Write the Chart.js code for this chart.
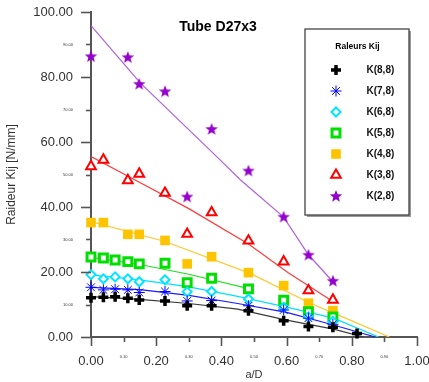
<!DOCTYPE html>
<html>
<head>
<meta charset="utf-8">
<style>
  html, body { margin: 0; padding: 0; background: #fff; }
</style>
</head>
<body>
<canvas id="myChart" width="429" height="382"></canvas>
<script src="https://cdn.jsdelivr.net/npm/chart.js@4.4.1/dist/chart.umd.min.js"></script>
<script>
  const FONT = 'Arial, "Liberation Sans", sans-serif';

  // a/D positions of the measured points
  const aD = [0, 0.038, 0.074, 0.113, 0.148, 0.227, 0.295, 0.37, 0.483, 0.591, 0.667, 0.742, 0.816];

  // measured stiffness [N/mm], null where there is no point
  const k88 = [12.1, 12.2, 12.4, 11.9, 11.4, 11.1, 9.6, 9.6, 8.1, 5.0, 3.2, 3.0, 1.1];
  const k78 = [15.3, 14.5, 14.7, 14.5, 13.7, 14.0, 11.1, 11.2, 9.6, 8.3, 5.8, 3.9, null];
  const k68 = [19.2, 17.9, 18.5, 17.9, 17.0, 17.6, 13.9, 14.0, 11.7, 9.1, 6.2, 4.8, null];
  const k58 = [24.6, 24.3, 23.7, 23.2, 22.5, 22.7, 16.7, 18.1, 14.8, 11.3, 7.8, 6.2, null];
  const k48 = [35.2, 35.2, null, 31.6, 31.6, 29.7, 22.5, 24.7, 19.8, 15.8, 10.4, 8.1, null];
  const k38 = [52.5, 54.5, null, 48.2, 50.2, 44.3, 31.7, 38.3, 29.6, 23.2, 14.3, 11.4, null];
  const k28 = [86.4, null, null, 86.1, 77.9, 75.6, 43.2, 64.0, 51.2, 37.0, 25.3, 17.3, null];

  // fitted curves
  const fit88X = [0, 0.15, 0.3, 0.45, 0.6, 0.744, 0.836];
  const fit88Y = [12.4, 11.6, 10.3, 8.6, 5.2, 2.4, 0];
  const fit78X = [0, 0.15, 0.3, 0.45, 0.6, 0.744, 0.872];
  const fit78Y = [15.3, 14.6, 12.8, 10.3, 7.6, 3.7, 0];
  const fit68X = [0, 0.15, 0.3, 0.45, 0.6, 0.744, 0.882];
  const fit68Y = [19.1, 17.6, 15.4, 12.5, 9.2, 5.8, 0];
  const fit58X = [0, 0.15, 0.3, 0.5];
  const fit58Y = [24.5, 22.3, 19.3, 14.5];
  const fit48X = [0, 0.227, 0.49, 0.673, 0.795, 0.915];
  const fit48Y = [35.5, 29.4, 19.5, 10.4, 5.2, 0];
  const fit38X = [0, 0.124, 0.3, 0.483, 0.605, 0.742];
  const fit38Y = [55.5, 48.9, 39.5, 28.6, 19.8, 10.9];
  const fit28X = [0, 0.151, 0.396, 0.458, 0.591, 0.667, 0.742];
  const fit28Y = [95.8, 78.2, 54.5, 48.4, 36.9, 25.3, 17.0];

  const labels = ["K(8,8)", "K(7,8)", "K(6,8)", "K(5,8)", "K(4,8)", "K(3,8)", "K(2,8)"];

  function pts(xs, ys) {
    return xs.map((x, i) => ({ x: x, y: ys[i] })).filter(p => p.y !== null);
  }

  // filled five-point star for K(2,8)
  const starImg = document.createElement("canvas");
  starImg.width = 14;
  starImg.height = 14;
  (function () {
    const c = starImg.getContext("2d");
    c.fillStyle = "#9400cc";
    c.beginPath();
    for (let i = 0; i < 10; i++) {
      const r = i % 2 === 0 ? 6.6 : 2.8;
      const a = -Math.PI / 2 + i * Math.PI / 5;
      const px = 7 + r * Math.cos(a), py = 7.5 + r * Math.sin(a);
      if (i === 0) c.moveTo(px, py); else c.lineTo(px, py);
    }
    c.closePath();
    c.fill();
  })();

  const marks = [
    { pointStyle: "cross", radius: 5, borderWidth: 3.5, color: "#000000", fill: "#000000", line: "#3a3a3a" },
    { pointStyle: "star", radius: 5.5, borderWidth: 1, color: "#0000ff", fill: "#0000ff", line: "#1a1aff" },
    { pointStyle: "rectRot", radius: 4.5, borderWidth: 2, color: "#00e5ff", fill: "#ffffff", line: "#00e0ff" },
    { pointStyle: "rect", radius: 5.6, borderWidth: 3, color: "#00e000", fill: "#ffffff", line: "#22dd22" },
    { pointStyle: "rect", radius: 6.8, borderWidth: 0, color: "#ffc400", fill: "#ffc400", line: "#ffc830" },
    { pointStyle: "triangle", radius: 5.6, borderWidth: 2, color: "#ff0000", fill: "#ffffff", line: "#ff3a3a" },
    { pointStyle: starImg, radius: 6, borderWidth: 0, color: "#9400cc", fill: "#9400cc", line: "#b060e0" }
  ];

  const series = [k88, k78, k68, k58, k48, k38, k28];
  const fits = [[fit88X, fit88Y], [fit78X, fit78Y], [fit68X, fit68Y], [fit58X, fit58Y],
                [fit48X, fit48Y], [fit38X, fit38Y], [fit28X, fit28Y]];

  const datasets = [];
  fits.forEach((f, i) => {
    datasets.push({
      label: labels[i] + " fit",
      data: pts(f[0], f[1]),
      showLine: true,
      pointRadius: 0,
      borderColor: marks[i].line,
      borderWidth: 1.2,
      tension: 0,
      order: 2
    });
  });
  series.forEach((s, i) => {
    const m = marks[i];
    datasets.push({
      label: labels[i],
      data: pts(aD, s),
      showLine: false,
      pointStyle: m.pointStyle,
      pointRadius: m.radius,
      pointBorderWidth: m.borderWidth,
      pointBorderColor: m.color,
      pointBackgroundColor: m.fill,
      clip: false,
      order: i === 0 ? 0 : 1
    });
  });

  const isMajorY = v => Math.round(v) % 20 === 0;
  const isMajorX = v => Math.round(v * 10) % 2 === 0;

  const decor = {
    id: "decor",
    afterDraw(chart) {
      const { ctx, chartArea: a, scales } = chart;
      const x = scales.x, y = scales.y;
      ctx.save();
      ctx.strokeStyle = "#555";
      ctx.lineWidth = 1.6;
      y.ticks.forEach(t => {
        const py = Math.round(y.getPixelForValue(t.value)) + 0.5;
        ctx.beginPath();
        ctx.moveTo(a.left, py);
        ctx.lineTo(a.left - (isMajorY(t.value) ? 10 : 5), py);
        ctx.stroke();
      });
      x.ticks.forEach(t => {
        const px = Math.round(x.getPixelForValue(t.value)) + 0.5;
        ctx.beginPath();
        ctx.moveTo(px, a.bottom);
        ctx.lineTo(px, a.bottom + (isMajorX(t.value) ? 9 : 5));
        ctx.stroke();
      });

      // title inside plot
      ctx.fillStyle = "#000";
      ctx.font = "bold 14px " + FONT;
      ctx.textAlign = "center";
      ctx.textBaseline = "middle";
      ctx.fillText("Tube D27x3", 218, 27);

      // legend box
      const bx = 305, by = 29, bw = 104, bh = 186;
      ctx.fillStyle = "#9a9a9a";
      ctx.fillRect(bx + 2, by + 2, bw, bh);
      ctx.fillStyle = "#fff";
      ctx.fillRect(bx, by, bw, bh);
      ctx.strokeStyle = "#444";
      ctx.lineWidth = 1.3;
      ctx.strokeRect(bx, by, bw, bh);
      ctx.fillStyle = "#000";
      ctx.font = "bold 8.5px " + FONT;
      ctx.fillText("Raleurs Kij", 357.5, 46.5);
      ctx.font = "bold 10px " + FONT;
      ctx.textAlign = "left";
      labels.forEach((lab, i) => {
        const ry = 70 + i * 21;
        const m = marks[i];
        ctx.fillStyle = m.fill;
        ctx.strokeStyle = m.color;
        ctx.lineWidth = m.borderWidth;
        Chart.helpers.drawPoint(ctx, { pointStyle: m.pointStyle, radius: m.radius, borderWidth: m.borderWidth, rotation: 0 }, 336, ry);
        ctx.fillStyle = "#111";
        ctx.fillText(lab, 366.5, ry + 0.5);
      });
      ctx.restore();
    }
  };

  const ctx = document.getElementById("myChart").getContext("2d");
  const myChart = new Chart(ctx, {
    type: "scatter",
    data: { datasets: datasets },
    plugins: [decor],
    options: {
      responsive: false,
      animation: false,
      events: [],
      layout: { padding: { top: 12, right: 12, left: 0, bottom: 0 } },
      plugins: { legend: { display: false }, tooltip: { enabled: false } },
      scales: {
        x: {
          type: "linear",
          min: 0,
          max: 1,
          afterFit: s => { s.height = 45; s.paddingLeft = 0; s.paddingRight = 0; },
          ticks: {
            stepSize: 0.1,
            autoSkip: false,
            maxRotation: 0,
            padding: 7,
            color: "#333",
            callback: v => v.toFixed(2),
            font: c => ({ family: FONT, size: c.tick && !isMajorX(c.tick.value) ? 4 : 13 })
          },
          grid: { drawOnChartArea: false, tickLength: 10, color: "rgba(0,0,0,0)" },
          border: { color: "#555", width: 2 },
          title: { display: true, text: "a/D", color: "#333", font: { family: FONT, size: 11 }, padding: { top: 0, bottom: 0 } }
        },
        y: {
          min: 0,
          max: 100,
          afterFit: s => { s.width = 91; s.paddingTop = 0; s.paddingBottom = 0; },
          ticks: {
            stepSize: 10,
            autoSkip: false,
            padding: 8,
            color: "#333",
            callback: v => v.toFixed(2),
            font: c => ({ family: FONT, size: c.tick && !isMajorY(c.tick.value) ? 4 : 13 })
          },
          grid: { drawOnChartArea: false, tickLength: 10, color: "rgba(0,0,0,0)" },
          border: { color: "#555", width: 2 },
          title: { display: true, text: "Raideur Kij [N/mm]", color: "#333", font: { family: FONT, size: 12 }, padding: { top: 4.5, bottom: 0 } }
        }
      }
    }
  });
</script>
</body>
</html>
